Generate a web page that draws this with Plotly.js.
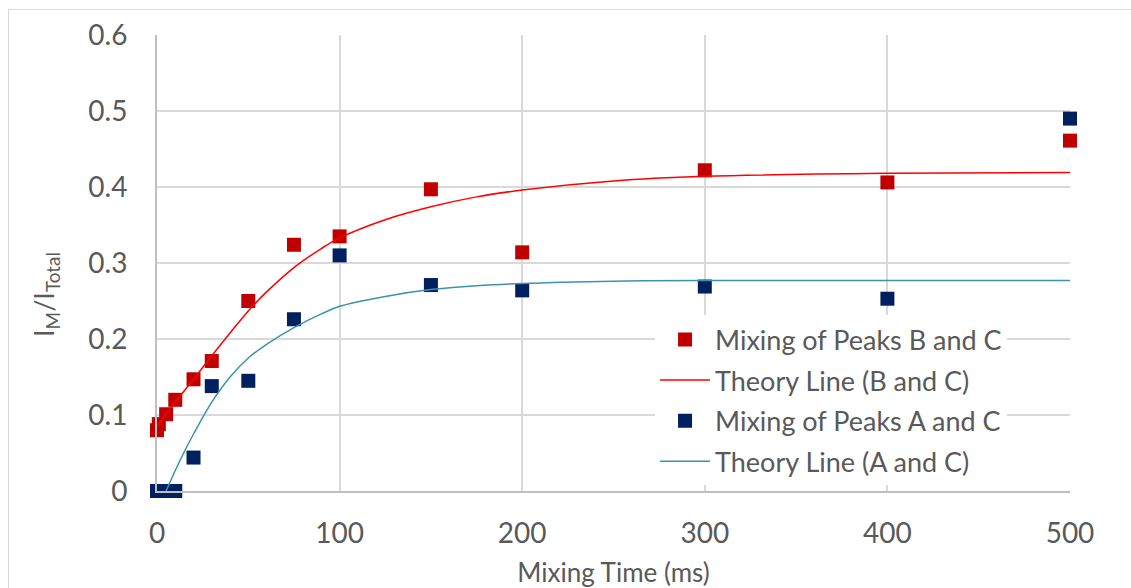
<!DOCTYPE html>
<html>
<head>
<meta charset="utf-8">
<script src="https://cdn.plot.ly/plotly-3.0.1.min.js"></script>
<style>
  html, body { margin: 0; padding: 0; background: #ffffff; }
  #frame { position: absolute; left: 8px; top: 9px; width: 1200px; height: 700px;
           border-left: 1px solid #d9d9d9; border-top: 1px solid #d9d9d9; }
  #chart { position: absolute; left: 0; top: 0; width: 1131px; height: 588px; }
</style>
</head>
<body>
<div id="frame"></div>
<div id="chart"></div>
<script>
// Measured data
const mixTimes = [0, 1, 5, 10, 20, 30, 50, 75, 100, 150, 200, 300, 400, 500];
const peaksBC = [0.080, 0.088, 0.101, 0.120, 0.147, 0.171, 0.250, 0.324, 0.335, 0.397, 0.314, 0.422, 0.406, 0.461];
const peaksAC = [0, 0, 0, 0, 0.044, 0.138, 0.145, 0.226, 0.310, 0.271, 0.264, 0.269, 0.253, 0.490];

// Theory curves
const theoryBCTimes = [0, 10, 20, 30, 40, 50, 60, 75, 90, 100, 125, 150, 175, 200, 250, 300, 400, 500];
const theoryBC = [0.085, 0.117, 0.147, 0.178, 0.208, 0.237, 0.262, 0.294, 0.319, 0.333, 0.357, 0.374, 0.387, 0.396, 0.408, 0.414, 0.418, 0.419];
const theoryACTimes = [5, 10, 15, 20, 30, 40, 50, 60, 75, 90, 100, 125, 150, 175, 200, 250, 300, 400, 500];
const theoryAC = [0, 0.027, 0.052, 0.075, 0.117, 0.150, 0.175, 0.193, 0.215, 0.233, 0.243, 0.256, 0.265, 0.270, 0.273, 0.276, 0.277, 0.277, 0.277];

const xTicks = [0, 100, 200, 300, 400, 500];
const yTicks = [0, 0.1, 0.2, 0.3, 0.4, 0.5, 0.6];

const FONT = 'Lato, "Open Sans", sans-serif';
const GREY = '#595959';

const traces = [
  { x: mixTimes, y: peaksBC, type: 'scatter', mode: 'markers', name: 'Mixing of Peaks B and C',
    marker: { symbol: 'square', size: 14, color: '#c00000' }, cliponaxis: false, legendgroup: 'g1' },
  { x: theoryBCTimes, y: theoryBC, type: 'scatter', mode: 'lines', name: 'Theory Line (B and C)',
    line: { color: '#ff0000', width: 1.5, shape: 'spline', smoothing: 1 }, legendgroup: 'g2' },
  { x: mixTimes, y: peaksAC, type: 'scatter', mode: 'markers', name: 'Mixing of Peaks A and C',
    marker: { symbol: 'square', size: 14, color: '#002060' }, cliponaxis: false, legendgroup: 'g3' },
  { x: theoryACTimes, y: theoryAC, type: 'scatter', mode: 'lines', name: 'Theory Line (A and C)',
    line: { color: '#3a93ae', width: 1.5, shape: 'spline', smoothing: 1 }, legendgroup: 'g4' }
];

const layout = {
  width: 1131, height: 588,
  margin: { l: 157, r: 61, t: 35, b: 97 },
  paper_bgcolor: 'rgba(0,0,0,0)',
  plot_bgcolor: 'rgba(0,0,0,0)',
  font: { family: FONT, color: GREY },
  showlegend: true,
  legend: {
    x: 0.5455, y: 0.385, xanchor: 'left', yanchor: 'top',
    bgcolor: '#ffffff', borderwidth: 0,
    font: { family: FONT, size: 27, color: GREY },
    traceorder: 'grouped', tracegroupgap: 2.5, itemwidth: 50
  },
  // white panel behind the legend, hiding the grid like the original
  shapes: [{
    type: 'rect', xref: 'paper', yref: 'paper', layer: 'between',
    x0: 0.540, x1: 0.976, y0: 0.0175, y1: 0.379,
    fillcolor: '#ffffff', line: { width: 0 }
  }],
  annotations: [{
    text: 'I<sub>M</sub>/I<sub>Total</sub>', textangle: -90, showarrow: false,
    xref: 'paper', yref: 'paper', x: -0.1227, y: 0.432, xanchor: 'center', yanchor: 'middle',
    font: { family: FONT, size: 27, color: GREY }
  }],
  xaxis: {
    range: [0, 500], tickvals: xTicks, ticktext: xTicks.map(String),
    showgrid: true, gridcolor: '#d9d9d9', gridwidth: 2,
    showline: true, linecolor: '#bfbfbf', linewidth: 2,
    zeroline: false, ticks: '', ticklabelstandoff: 16,
    tickfont: { family: FONT, size: 28, color: GREY },
    title: { text: 'Mixing Time (ms)', font: { family: FONT, size: 26, color: GREY }, standoff: 16 }
  },
  yaxis: {
    range: [0, 0.6], tickvals: yTicks, ticktext: yTicks.map(String),
    showgrid: true, gridcolor: '#d9d9d9', gridwidth: 2,
    showline: true, linecolor: '#bfbfbf', linewidth: 2,
    zeroline: false, ticks: '', ticklabelstandoff: 22,
    tickfont: { family: FONT, size: 28, color: GREY }
  }
};

Plotly.newPlot('chart', traces, layout, { displayModeBar: false, staticPlot: true });
</script>
</body>
</html>
